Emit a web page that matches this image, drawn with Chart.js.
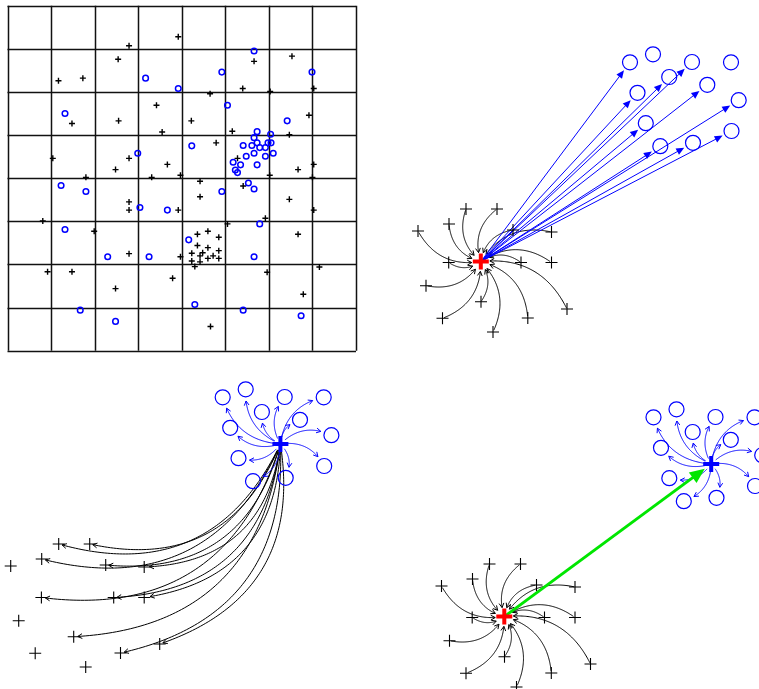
<!DOCTYPE html>
<html>
<head>
<meta charset="utf-8">
<script src="https://cdn.jsdelivr.net/npm/chart.js@4.4.1/dist/chart.umd.min.js"></script>
<style>
  html, body { margin: 0; padding: 0; background: #ffffff; }
  body { width: 759px; height: 689px; position: relative; overflow: hidden; }
  canvas { position: absolute; }
</style>
</head>
<body>
<canvas id="grid" width="370" height="360" style="left:0px;top:0px"></canvas>
<canvas id="pull" width="359" height="360" style="left:400px;top:0px"></canvas>
<canvas id="spread" width="400" height="329" style="left:0px;top:360px"></canvas>
<canvas id="shift" width="359" height="329" style="left:400px;top:360px"></canvas>
<script>
// ---- Scatter on an 8 x 8 cell grid (cell units, origin bottom-left) ----
const plusGX = [3.92,2.79,2.54,1.17,1.73,5.66,6.53,5.40,7.03,4.65,6.03,3.42,1.48,2.55,4.22,6.92,3.55,5.16,6.47,4.79,1.04,2.79,5.28,3.67,2.48,6.67,7.03,1.80,3.31,3.97,6.02,7.00,4.42,5.41,4.42,6.47,2.79,2.79,3.92,7.03,0.81,1.99,5.05,5.92,6.67,4.36,4.60,4.85,4.36,4.60,4.85,4.23,4.48,4.72,4.42,4.23,4.42,4.60,4.85,4.30,2.79,3.97,0.92,1.48,3.79,5.96,7.16,2.48,6.79,4.66];
const plusGY = [7.28,7.07,6.76,6.26,6.32,6.71,6.83,6.08,6.08,5.96,6.01,5.69,5.27,5.33,5.33,5.46,5.07,5.09,5.01,4.82,4.46,4.46,4.46,4.32,4.20,4.20,4.32,4.02,4.02,4.07,4.07,4.02,3.93,3.82,3.57,3.51,3.45,3.26,3.26,3.26,3.01,2.77,2.94,3.07,2.70,2.70,2.77,2.63,2.44,2.39,2.32,2.26,2.27,2.20,2.20,2.08,2.06,2.14,2.14,1.95,2.25,2.18,1.83,1.83,1.68,1.82,1.94,1.44,1.31,0.56];
const circGX = [5.66,4.92,6.99,3.17,3.92,5.05,1.32,6.42,5.73,6.04,5.66,4.23,5.41,5.61,5.73,5.98,6.05,5.79,5.92,5.66,5.48,5.92,6.10,2.99,5.18,5.35,5.73,5.23,5.28,1.23,1.80,4.92,5.53,5.66,3.04,3.67,1.32,5.79,4.16,2.30,3.25,5.66,4.30,1.67,5.41,6.74,2.48];
const circGY = [6.95,6.46,6.46,6.32,6.08,5.69,5.50,5.33,5.08,5.02,4.94,4.75,4.76,4.76,4.82,4.82,4.82,4.71,4.71,4.58,4.51,4.51,4.58,4.58,4.37,4.31,4.31,4.19,4.13,3.83,3.69,3.69,3.89,3.75,3.32,3.26,2.81,2.94,2.57,2.18,2.18,2.18,1.07,0.94,0.94,0.81,0.68];
const gridCells = 8;

// ---- Two point clusters and their centres ----
const blackX = [6.6,9.7,4.9,1.8,11.3,15.15,4.87,12.1,15.15,2.6,8.1,16.7,4.25,12.78,9.3];
const blackY = [15.1,15.1,13.6,12.9,13.0,12.8,9.75,9.75,9.75,7.43,5.83,5.1,4.17,4.2,2.8];
const blueX = [23.0,25.3,29.2,33.1,26.92,23.75,30.73,33.87,24.58,33.15,26.03,29.3];
const blueY = [29.77,30.57,29.8,29.77,28.3,26.72,27.52,25.98,23.68,22.9,21.38,21.72];
const blackCentre = [8.08, 9.84];
const blueCentre = [28.77, 25.1];
// which blue points are reached by a straight arrow from the black centre
const blueDirect = [1,0,1,0,1,1,1,1,1,1,1,1];
// which black points are reached by a curve from the blue centre
const blackReached = [1,1,1,0,1,1,1,1,1,0,1,1,0,1,0];

const BLUE = '#0000ff', RED = '#ff0000', GREEN = '#00e600', INK = '#000000';

const pairs = (xs, ys) => xs.map((x, i) => ({ x, y: ys[i] }));

function px(chart, x, y) {
  return { x: chart.scales.x.getPixelForValue(x), y: chart.scales.y.getPixelForValue(y) };
}

function bezier(hub, leaf, bend, n) {
  const dx = leaf.x - hub.x, dy = leaf.y - hub.y;
  const cx = (hub.x + leaf.x) / 2 + bend * dy;
  const cy = (hub.y + leaf.y) / 2 - bend * dx;
  const pts = [];
  for (let i = 0; i <= n; i++) {
    const t = i / n, u = 1 - t;
    pts.push({ x: u*u*hub.x + 2*u*t*cx + t*t*leaf.x, y: u*u*hub.y + 2*u*t*cy + t*t*leaf.y });
  }
  return pts;
}

function openHead(ctx, tip, from, len, ang) {
  const a = Math.atan2(tip.y - from.y, tip.x - from.x);
  ctx.beginPath();
  ctx.moveTo(tip.x - len * Math.cos(a - ang), tip.y - len * Math.sin(a - ang));
  ctx.lineTo(tip.x, tip.y);
  ctx.lineTo(tip.x - len * Math.cos(a + ang), tip.y - len * Math.sin(a + ang));
  ctx.stroke();
}

function solidHead(ctx, tip, from, len, half) {
  const a = Math.atan2(tip.y - from.y, tip.x - from.x);
  const bx = tip.x - len * Math.cos(a), by = tip.y - len * Math.sin(a);
  ctx.beginPath();
  ctx.moveTo(tip.x, tip.y);
  ctx.lineTo(bx + half * Math.sin(a), by - half * Math.cos(a));
  ctx.lineTo(bx - half * Math.sin(a), by + half * Math.cos(a));
  ctx.closePath();
  ctx.fill();
}

// curved arrow between a centre (hub) and a point (leaf)
function curved(ctx, hub, leaf, bend, towardHub, gapHub, gapLeaf, color) {
  let pts = bezier(hub, leaf, bend, 90).filter(p =>
    Math.hypot(p.x - hub.x, p.y - hub.y) >= gapHub &&
    Math.hypot(p.x - leaf.x, p.y - leaf.y) >= gapLeaf);
  if (pts.length < 3) return;
  if (towardHub) pts.reverse();
  ctx.strokeStyle = color;
  ctx.lineWidth = 1;
  ctx.beginPath();
  ctx.moveTo(pts[0].x, pts[0].y);
  for (let i = 1; i < pts.length; i++) ctx.lineTo(pts[i].x, pts[i].y);
  ctx.stroke();
  openHead(ctx, pts[pts.length - 1], pts[Math.max(0, pts.length - 4)], 5, 0.5);
}

function straight(ctx, a, b, gapEnd, color, width, len, half) {
  const d = Math.hypot(b.x - a.x, b.y - a.y);
  const tip = { x: b.x - (b.x - a.x) * gapEnd / d, y: b.y - (b.y - a.y) * gapEnd / d };
  const base = { x: tip.x - (b.x - a.x) * len * 0.8 / d, y: tip.y - (b.y - a.y) * len * 0.8 / d };
  ctx.strokeStyle = color; ctx.fillStyle = color; ctx.lineWidth = width;
  ctx.beginPath(); ctx.moveTo(a.x, a.y); ctx.lineTo(base.x, base.y); ctx.stroke();
  solidHead(ctx, tip, a, len, half);
}

const baseOptions = (xr, yr, padding) => ({
  responsive: false,
  animation: false,
  events: [],
  layout: { padding: padding || 0, autoPadding: false },
  plugins: { legend: { display: false }, tooltip: { enabled: false } },
  scales: {
    x: { type: 'linear', min: xr[0], max: xr[1], display: false },
    y: { type: 'linear', min: yr[0], max: yr[1], display: false }
  }
});

// ---- Panel 1: grid scatter ----
new Chart(document.getElementById('grid'), {
  type: 'scatter',
  data: {
    datasets: [
      { data: pairs(circGX, circGY), pointStyle: 'circle', pointRadius: 2.8, borderColor: BLUE, borderWidth: 1.5, backgroundColor: 'rgba(0,0,0,0)', clip: false },
      { data: pairs(plusGX, plusGY), pointStyle: 'cross', pointRadius: 3, borderColor: INK, borderWidth: 1.4, clip: false }
    ]
  },
  options: baseOptions([0, gridCells], [0, gridCells], { left: 7.5, top: 5.7, right: 14, bottom: 9.3 }),
  plugins: [{
    id: 'cells',
    beforeDatasetsDraw(chart) {
      const ctx = chart.ctx, sx = chart.scales.x, sy = chart.scales.y;
      ctx.save();
      ctx.strokeStyle = '#111111';
      ctx.lineWidth = 1.5;
      const top = sy.getPixelForValue(gridCells), bottom = sy.getPixelForValue(0);
      const left = sx.getPixelForValue(0), right = sx.getPixelForValue(gridCells);
      for (let i = 0; i <= gridCells; i++) {
        const x = Math.round(sx.getPixelForValue(i)) + 0.5;
        const y = Math.round(sy.getPixelForValue(i)) + 0.5;
        ctx.beginPath(); ctx.moveTo(x, top); ctx.lineTo(x, bottom); ctx.stroke();
        ctx.beginPath(); ctx.moveTo(left, y); ctx.lineTo(right, y); ctx.stroke();
      }
      ctx.restore();
    }
  }]
});

// ---- Cluster panels ----
function clusterPanel(id, xr, yr, mode) {
  const datasets = [];
  if (mode !== 'spread') datasets.push({ data: [{ x: blackCentre[0], y: blackCentre[1] }], pointStyle: 'cross', pointRadius: 8, borderColor: RED, borderWidth: 4, clip: false });
  if (mode !== 'pull') datasets.push({ data: [{ x: blueCentre[0], y: blueCentre[1] }], pointStyle: 'cross', pointRadius: 8, borderColor: BLUE, borderWidth: 4, clip: false });
  datasets.push({ data: pairs(blueX, blueY), pointStyle: 'circle', pointRadius: 7.5, borderColor: BLUE, borderWidth: 1.2, backgroundColor: 'rgba(0,0,0,0)', clip: false });
  datasets.push({ data: pairs(blackX, blackY), pointStyle: 'cross', pointRadius: 6, borderColor: INK, borderWidth: 1.1, clip: false });

  new Chart(document.getElementById(id), {
    type: 'scatter',
    data: { datasets },
    options: baseOptions(xr, yr),
    plugins: [{
      id: 'links',
      beforeDatasetsDraw(chart) {
        const ctx = chart.ctx;
        ctx.save();
        const bc = px(chart, blackCentre[0], blackCentre[1]);
        const uc = px(chart, blueCentre[0], blueCentre[1]);
        if (mode === 'pull' || mode === 'shift') {
          blackX.forEach((x, i) => curved(ctx, bc, px(chart, x, blackY[i]), 0.35, true, 9, 1, INK));
        }
        if (mode === 'spread') {
          blackX.forEach((x, i) => { if (blackReached[i]) curved(ctx, uc, px(chart, x, blackY[i]), 0.42, false, 6, 3, INK); });
        }
        if (mode === 'spread' || mode === 'shift') {
          blueX.forEach((x, i) => curved(ctx, uc, px(chart, x, blueY[i]), 0.35, false, 6, 11, BLUE));
        }
        if (mode === 'pull') {
          blueX.forEach((x, i) => { if (blueDirect[i]) straight(ctx, bc, px(chart, x, blueY[i]), 10, BLUE, 1, 8, 3.5); });
        }
        if (mode === 'shift') {
          straight(ctx, bc, uc, 8, GREEN, 3, 15, 6.5);
        }
        ctx.restore();
      }
    }]
  });
}

clusterPanel('pull', [0, 35.9], [0, 36], 'pull');
clusterPanel('spread', [0.73, 40.73], [0.6, 33.5], 'spread');
clusterPanel('shift', [-2.35, 33.55], [2.6, 35.5], 'shift');
</script>
</body>
</html>
